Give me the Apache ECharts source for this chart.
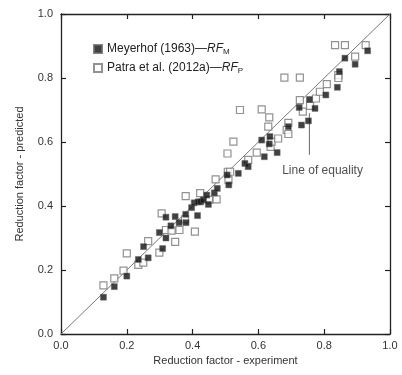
<!DOCTYPE html>
<html>
<head>
<meta charset="utf-8">
<script src="https://cdn.jsdelivr.net/npm/echarts@6/dist/echarts.min.js"></script>
<style>
  html, body { margin: 0; padding: 0; background: #fff; }
  #chart { width: 402px; height: 375px; }
</style>
</head>
<body>
<div id="chart"></div>
<script>
// axis ticks
var tickValues = [0, 0.2, 0.4, 0.6, 0.8, 1.0];

// Meyerhof (1963) - filled squares  [experiment, predicted]
var meyerhofPts = [
  [0.129, 0.115], [0.162, 0.148], [0.200, 0.181], [0.235, 0.233], [0.251, 0.273],
  [0.265, 0.238], [0.299, 0.317], [0.309, 0.267], [0.319, 0.300], [0.319, 0.365],
  [0.334, 0.338], [0.347, 0.367], [0.359, 0.348], [0.379, 0.374], [0.380, 0.348],
  [0.397, 0.395], [0.405, 0.410], [0.415, 0.370], [0.417, 0.413], [0.425, 0.413],
  [0.433, 0.419], [0.443, 0.434], [0.448, 0.405], [0.466, 0.441], [0.475, 0.455],
  [0.505, 0.497], [0.510, 0.466], [0.539, 0.502], [0.559, 0.533], [0.569, 0.523],
  [0.610, 0.606], [0.618, 0.554], [0.633, 0.594], [0.635, 0.617], [0.657, 0.567],
  [0.691, 0.648], [0.724, 0.708], [0.731, 0.653], [0.752, 0.666], [0.755, 0.733],
  [0.772, 0.705], [0.805, 0.747], [0.840, 0.771], [0.846, 0.820], [0.863, 0.862],
  [0.894, 0.843], [0.932, 0.885]
];

// Patra et al. (2012a) - open squares
var patraPts = [
  [0.129, 0.152], [0.162, 0.174], [0.190, 0.198], [0.200, 0.252], [0.235, 0.216],
  [0.250, 0.223], [0.265, 0.290], [0.299, 0.254], [0.306, 0.377], [0.319, 0.325],
  [0.336, 0.323], [0.347, 0.288], [0.360, 0.325], [0.377, 0.358], [0.379, 0.431],
  [0.407, 0.320], [0.423, 0.440], [0.450, 0.419], [0.473, 0.421], [0.470, 0.483],
  [0.507, 0.507], [0.509, 0.481], [0.514, 0.507], [0.506, 0.564], [0.524, 0.601],
  [0.544, 0.700], [0.569, 0.544], [0.595, 0.567], [0.610, 0.702], [0.630, 0.648],
  [0.633, 0.677], [0.637, 0.585], [0.640, 0.601], [0.660, 0.611], [0.679, 0.801],
  [0.686, 0.638], [0.691, 0.625], [0.691, 0.660], [0.726, 0.801], [0.726, 0.731],
  [0.735, 0.695], [0.757, 0.713], [0.775, 0.736], [0.787, 0.757], [0.808, 0.781],
  [0.833, 0.903], [0.843, 0.809], [0.843, 0.800], [0.863, 0.903], [0.894, 0.867],
  [0.926, 0.903]
];

var equalityLine = [[0, 0], [1, 1]];
var pointerLine = [[0.755, 0.69], [0.755, 0.56]];
var pointerLabelPos = [[0.795, 0.51]];

var chart = echarts.init(document.getElementById('chart'));

var baseFont = 'Liberation Sans, Arial, sans-serif';
function fmt(v) { return v.toFixed(1); }

var axisCommon = {
  type: 'value', min: 0, max: 1, interval: 0.2,
  axisLine: { show: true, onZero: false, lineStyle: { color: '#222', width: 1.3 } },
  axisTick: { show: true, inside: true, length: 5, lineStyle: { color: '#222', width: 1.2 } },
  splitLine: { show: false }
};

var option = {
  animation: false,
  backgroundColor: '#fff',
  grid: { left: 61, right: 12, top: 14, bottom: 41, containLabel: false },
  legend: {
    orient: 'vertical', left: 88, top: 38, itemGap: 6,
    itemWidth: 8, itemHeight: 8,
    textStyle: {
      fontFamily: baseFont, fontSize: 12, color: '#222',
      rich: {
        n: { fontFamily: baseFont, fontSize: 12, color: '#222' },
        i: { fontFamily: baseFont, fontSize: 12, fontStyle: 'italic', color: '#222' },
        s: { fontFamily: baseFont, fontSize: 8, color: '#222', verticalAlign: 'bottom', padding: [6, 0, 0, 0] }
      }
    },
    data: ['Meyerhof', 'Patra'],
    formatter: function (name) {
      if (name === 'Meyerhof') return '{n|Meyerhof (1963)—}{i|RF}{s|M}';
      return '{n|Patra et al. (2012a)—}{i|RF}{s|P}';
    }
  },
  xAxis: [
    Object.assign({}, axisCommon, {
      position: 'bottom',
      name: 'Reduction factor - experiment', nameLocation: 'middle', nameGap: 18,
      nameTextStyle: { fontFamily: baseFont, fontSize: 11, color: '#333' },
      axisLabel: { fontFamily: baseFont, fontSize: 11, color: '#333', margin: 6, formatter: fmt }
    }),
    Object.assign({}, axisCommon, { position: 'top', axisLabel: { show: false } })
  ],
  yAxis: [
    Object.assign({}, axisCommon, {
      position: 'left',
      name: 'Reduction factor - predicted', nameLocation: 'middle', nameGap: 36,
      nameTextStyle: { fontFamily: baseFont, fontSize: 11, color: '#333' },
      axisLabel: { fontFamily: baseFont, fontSize: 11, color: '#333', margin: 8, formatter: fmt }
    }),
    Object.assign({}, axisCommon, { position: 'right', axisLabel: { show: false } })
  ],
  series: [
    {
      name: 'equality', type: 'line', data: equalityLine, showSymbol: false, symbol: 'none',
      lineStyle: { color: '#777', width: 1 }, silent: true, z: 1
    },
    {
      name: 'pointer', type: 'line', data: pointerLine, showSymbol: false, symbol: 'none',
      lineStyle: { color: '#666', width: 1 }, silent: true, z: 1
    },
    {
      name: 'pointerLabel', type: 'scatter', data: pointerLabelPos, symbolSize: 0,
      label: {
        show: true, position: 'inside', formatter: 'Line of equality',
        fontFamily: baseFont, fontSize: 12, color: '#222'
      }
    },
    {
      name: 'Patra', type: 'scatter', data: patraPts, symbol: 'rect', symbolSize: 7,
      itemStyle: { color: '#fff', borderColor: '#777', borderWidth: 1.2 }, z: 2
    },
    {
      name: 'Meyerhof', type: 'scatter', data: meyerhofPts, symbol: 'rect', symbolSize: 6,
      itemStyle: { color: '#111', borderColor: '#666', borderWidth: 0.6 }, z: 3
    }
  ]
};

chart.setOption(option);
</script>
</body>
</html>
